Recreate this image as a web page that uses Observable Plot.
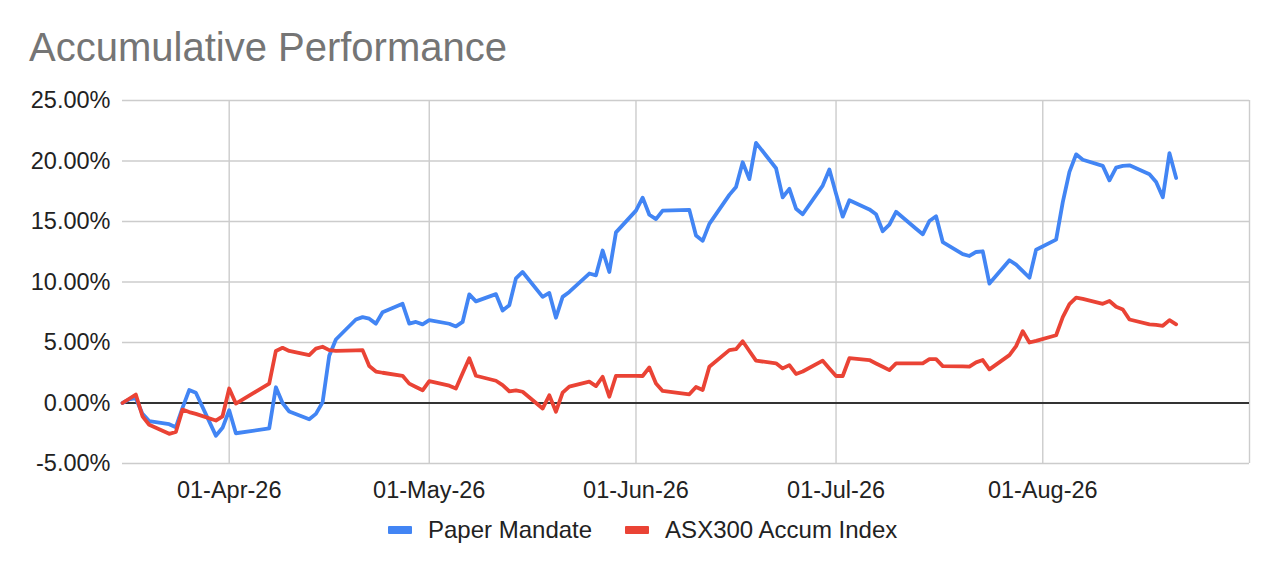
<!DOCTYPE html>
<html>
<head>
<meta charset="utf-8">
<script src="https://cdn.jsdelivr.net/npm/d3@7"></script>
<script src="https://cdn.jsdelivr.net/npm/@observablehq/plot@0.6"></script>
<style>
  html, body { margin: 0; padding: 0; background: #fff; }
  body { width: 1284px; height: 572px; position: relative; overflow: hidden; font-family: 'Liberation Sans', Arial, sans-serif; }
  #title { position: absolute; left: 29px; top: 27px; font-size: 40px; line-height: 40px; color: #757575; white-space: nowrap; }
  #chart { position: absolute; left: 0; top: 80px; }
  #legend { position: absolute; left: 388px; top: 518px; display: flex; align-items: center; font-size: 24px; line-height: 24px; color: #222; white-space: nowrap; }
  .sw { display: inline-block; width: 24px; height: 8px; border-radius: 1px; margin-right: 16px; }
  .item { display: inline-flex; align-items: center; margin-right: 33px; }
</style>
</head>
<body>
<div id="title">Accumulative Performance</div>
<div id="chart"></div>
<div id="legend"></div>
<script>
// ---- data ----
const seriesNames = ["Paper Mandate", "ASX300 Accum Index"];
const seriesColors = ["#4285F4", "#EA4335"];

const dates = [
  "2026-03-16","2026-03-17","2026-03-18","2026-03-19","2026-03-20",
  "2026-03-23","2026-03-24","2026-03-25","2026-03-26","2026-03-27",
  "2026-03-30","2026-03-31","2026-04-01","2026-04-02",
  "2026-04-07","2026-04-08","2026-04-09","2026-04-10",
  "2026-04-13","2026-04-14","2026-04-15","2026-04-16","2026-04-17",
  "2026-04-20","2026-04-21","2026-04-22","2026-04-23","2026-04-24",
  "2026-04-27","2026-04-28","2026-04-29","2026-04-30","2026-05-01",
  "2026-05-04","2026-05-05","2026-05-06","2026-05-07","2026-05-08",
  "2026-05-11","2026-05-12","2026-05-13","2026-05-14","2026-05-15",
  "2026-05-18","2026-05-19","2026-05-20","2026-05-21","2026-05-22",
  "2026-05-25","2026-05-26","2026-05-27","2026-05-28","2026-05-29",
  "2026-06-01","2026-06-02","2026-06-03","2026-06-04","2026-06-05",
  "2026-06-09","2026-06-10","2026-06-11","2026-06-12",
  "2026-06-15","2026-06-16","2026-06-17","2026-06-18","2026-06-19",
  "2026-06-22","2026-06-23","2026-06-24","2026-06-25","2026-06-26",
  "2026-06-29","2026-06-30","2026-07-01","2026-07-02","2026-07-03",
  "2026-07-06","2026-07-07","2026-07-08","2026-07-09","2026-07-10",
  "2026-07-13","2026-07-14","2026-07-15","2026-07-16","2026-07-17",
  "2026-07-20","2026-07-21","2026-07-22","2026-07-23","2026-07-24",
  "2026-07-27","2026-07-28","2026-07-29","2026-07-30","2026-07-31",
  "2026-08-03","2026-08-04","2026-08-05","2026-08-06","2026-08-07",
  "2026-08-10","2026-08-11","2026-08-12","2026-08-13","2026-08-14",
  "2026-08-17","2026-08-18","2026-08-19","2026-08-20","2026-08-21"
];

const paperMandate = [
  0.0, 0.3, 0.4, -0.9, -1.5,
  -1.75, -2.0, -0.4, 1.07, 0.85,
  -2.7, -2.05, -0.6, -2.5,
  -2.1, 1.3, 0.0, -0.7,
  -1.35, -0.9, 0.05, 3.9, 5.25,
  6.9, 7.1, 6.97, 6.56, 7.5,
  8.2, 6.56, 6.7, 6.5, 6.85,
  6.55, 6.33, 6.7, 8.98, 8.4,
  9.0, 7.65, 8.08, 10.3, 10.83,
  8.77, 9.1, 7.05, 8.77, 9.18,
  10.7, 10.55, 12.6, 10.83, 14.1,
  15.9, 16.97, 15.56, 15.2, 15.9,
  15.96, 13.85, 13.4, 14.8,
  17.2, 17.85, 19.9, 18.5, 21.5,
  19.4, 17.0, 17.7, 16.06, 15.6,
  17.97, 19.3, 17.3, 15.4, 16.75,
  16.0, 15.6, 14.2, 14.74, 15.8,
  14.4, 13.94, 15.04, 15.43, 13.3,
  12.3, 12.15, 12.48, 12.54, 9.87,
  11.8, 11.44, 10.9, 10.35, 12.67,
  13.5, 16.6, 19.1, 20.55, 20.1,
  19.6, 18.4, 19.45, 19.6, 19.64,
  18.9, 18.26, 17.0, 20.65, 18.6
];

const asx300 = [
  0.0, 0.35, 0.7, -1.1, -1.8,
  -2.55, -2.4, -0.55, -0.75, -0.9,
  -1.45, -1.1, 1.2, -0.05,
  1.6, 4.3, 4.56, 4.3,
  3.96, 4.5, 4.65, 4.37, 4.3,
  4.35, 4.37, 3.05, 2.6, 2.5,
  2.25, 1.6, 1.32, 1.05, 1.8,
  1.43, 1.2, 2.45, 3.7, 2.25,
  1.84, 1.48, 0.97, 1.05, 0.93,
  -0.46, 0.64, -0.72, 0.85, 1.35,
  1.76, 1.4, 2.17, 0.52, 2.25,
  2.25, 2.23, 2.94, 1.62, 1.0,
  0.72, 1.33, 1.07, 3.0,
  4.37, 4.45, 5.1, 4.3, 3.5,
  3.28, 2.86, 3.13, 2.4, 2.6,
  3.5, 2.86, 2.23, 2.23, 3.7,
  3.55, 3.27, 3.0, 2.72, 3.27,
  3.27, 3.27, 3.63, 3.63, 3.05,
  3.02, 3.0, 3.36, 3.55, 2.78,
  3.96, 4.7, 5.94, 5.0, 5.14,
  5.6, 7.1, 8.17, 8.7, 8.6,
  8.2, 8.43, 7.95, 7.73, 6.9,
  6.5, 6.45, 6.38, 6.85, 6.5
];

const xDomain = ["2026-03-16", "2026-09-01"];
const xTickLabels = ["2026-04-01","2026-05-01","2026-06-01","2026-07-01","2026-08-01"];
const xGridDates = ["2026-04-01","2026-05-01","2026-06-01","2026-07-01","2026-08-01","2026-09-01"];
const yTicks = [-5, 0, 5, 10, 15, 20, 25];

// ---- build ----
const parse = s => new Date(s + "T00:00:00Z");
const values = [paperMandate, asx300];
const data = [];
seriesNames.forEach((name, k) => {
  dates.forEach((d, i) => data.push({date: parse(d), series: name, value: values[k][i]}));
});

const fmtDate = d3.utcFormat("%d-%b-%y");

const chart = Plot.plot({
  width: 1284,
  height: 440,
  marginLeft: 122,
  marginRight: 35,
  marginTop: 20,
  marginBottom: 57,
  style: {
    fontFamily: "'Liberation Sans', Arial, sans-serif",
    fontSize: "23.5px",
    color: "#222",
    background: "#fff",
    overflow: "visible"
  },
  x: {
    type: "utc",
    domain: xDomain.map(parse),
    ticks: xTickLabels.map(parse),
    tickFormat: fmtDate,
    tickSize: 0,
    tickPadding: 18,
    label: null
  },
  y: {
    domain: [-5, 25],
    ticks: yTicks,
    tickFormat: d => d.toFixed(2) + "%",
    tickSize: 0,
    tickPadding: 12,
    label: null
  },
  color: { domain: seriesNames, range: seriesColors },
  marks: [
    Plot.ruleY(yTicks, {stroke: "#cccccc", strokeWidth: 1.4}),
    Plot.ruleX(xGridDates.map(parse), {stroke: "#cccccc", strokeWidth: 1.4}),
    Plot.ruleY([0], {stroke: "#333333", strokeWidth: 1.8}),
    Plot.line(data, {
      x: "date", y: "value", z: "series", stroke: "series",
      strokeWidth: 3.8, strokeLinejoin: "round", strokeLinecap: "round"
    })
  ]
});
document.getElementById("chart").appendChild(chart);

// legend
const legend = document.getElementById("legend");
seriesNames.forEach((name, k) => {
  const item = document.createElement("span");
  item.className = "item";
  const sw = document.createElement("span");
  sw.className = "sw";
  sw.style.background = seriesColors[k];
  item.appendChild(sw);
  item.appendChild(document.createTextNode(name));
  legend.appendChild(item);
});
</script>
</body>
</html>
